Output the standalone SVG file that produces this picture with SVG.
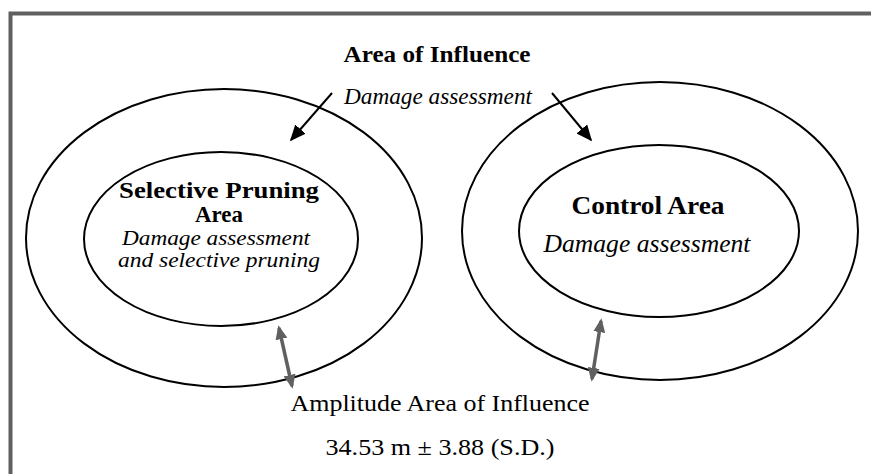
<svg xmlns="http://www.w3.org/2000/svg" width="871" height="474" viewBox="0 0 871 474">
<defs>
<style>
.t{font-family:"Liberation Serif","Times New Roman",serif;fill:#000;text-anchor:middle}
.b{font-weight:bold}
.i{font-style:italic}
.el{fill:none;stroke:#000;stroke-width:2}
.blk{stroke:#000;stroke-width:2;fill:none}
.gry{stroke:#606060;stroke-width:3.5;fill:none}
</style>
<marker id="ah" viewBox="0 0 10 10" refX="9" refY="5" markerWidth="16" markerHeight="14" markerUnits="userSpaceOnUse" orient="auto" preserveAspectRatio="none">
<path d="M0,0 L10,5 L0,10 z" fill="#000"/>
</marker>
<marker id="gh" viewBox="0 0 10 10" refX="8" refY="5" markerWidth="14" markerHeight="12" markerUnits="userSpaceOnUse" orient="auto-start-reverse" preserveAspectRatio="none">
<path d="M0,0 L10,5 L0,10 z" fill="#606060"/>
</marker>
</defs>
<rect width="871" height="474" fill="#fff"/>
<g id="frame">
<path d="M10.5,474 V13.5 H871" fill="none" stroke="#606060" stroke-width="4"/>
</g>
<g id="title">
<text class="t b" x="437" y="62" font-size="23" textLength="187" lengthAdjust="spacingAndGlyphs">Area of Influence</text>
<text class="t i" x="438" y="104" font-size="23" textLength="188" lengthAdjust="spacingAndGlyphs">Damage assessment</text>
</g>
<g id="left-outer">
<ellipse class="el" cx="224" cy="238" rx="198" ry="149"/>
</g>
<g id="left-inner">
<ellipse class="el" cx="221" cy="239" rx="137" ry="87"/>
<text class="t b" x="219" y="198" font-size="23" textLength="200" lengthAdjust="spacingAndGlyphs">Selective Pruning</text>
<text class="t b" x="219" y="222" font-size="23" textLength="48" lengthAdjust="spacingAndGlyphs">Area</text>
<text class="t i" x="216" y="245" font-size="21" textLength="188" lengthAdjust="spacingAndGlyphs">Damage assessment</text>
<text class="t i" x="219" y="267" font-size="21" textLength="202" lengthAdjust="spacingAndGlyphs">and selective pruning</text>
</g>
<g id="right-outer">
<ellipse class="el" cx="660" cy="231" rx="198" ry="149"/>
</g>
<g id="right-inner">
<ellipse class="el" cx="659" cy="231" rx="140" ry="86"/>
<text class="t b" x="648" y="214" font-size="26" textLength="153" lengthAdjust="spacingAndGlyphs">Control Area</text>
<text class="t i" x="647" y="252" font-size="25" textLength="207" lengthAdjust="spacingAndGlyphs">Damage assessment</text>
</g>
<g id="amplitude">
<text class="t" x="440" y="411" font-size="24" textLength="299" lengthAdjust="spacingAndGlyphs">Amplitude Area of Influence</text>
<text class="t" x="440" y="455" font-size="24" textLength="229" lengthAdjust="spacingAndGlyphs">34.53 m ± 3.88 (S.D.)</text>
</g>
<g id="connectors">
<line class="blk" x1="332" y1="93" x2="291" y2="140" marker-end="url(#ah)"/>
<line class="blk" x1="552" y1="93" x2="591" y2="140" marker-end="url(#ah)"/>
<line class="gry" x1="279" y1="328" x2="292" y2="386" marker-start="url(#gh)" marker-end="url(#gh)"/>
<line class="gry" x1="601" y1="321" x2="592" y2="379" marker-start="url(#gh)" marker-end="url(#gh)"/>
</g>
</svg>
